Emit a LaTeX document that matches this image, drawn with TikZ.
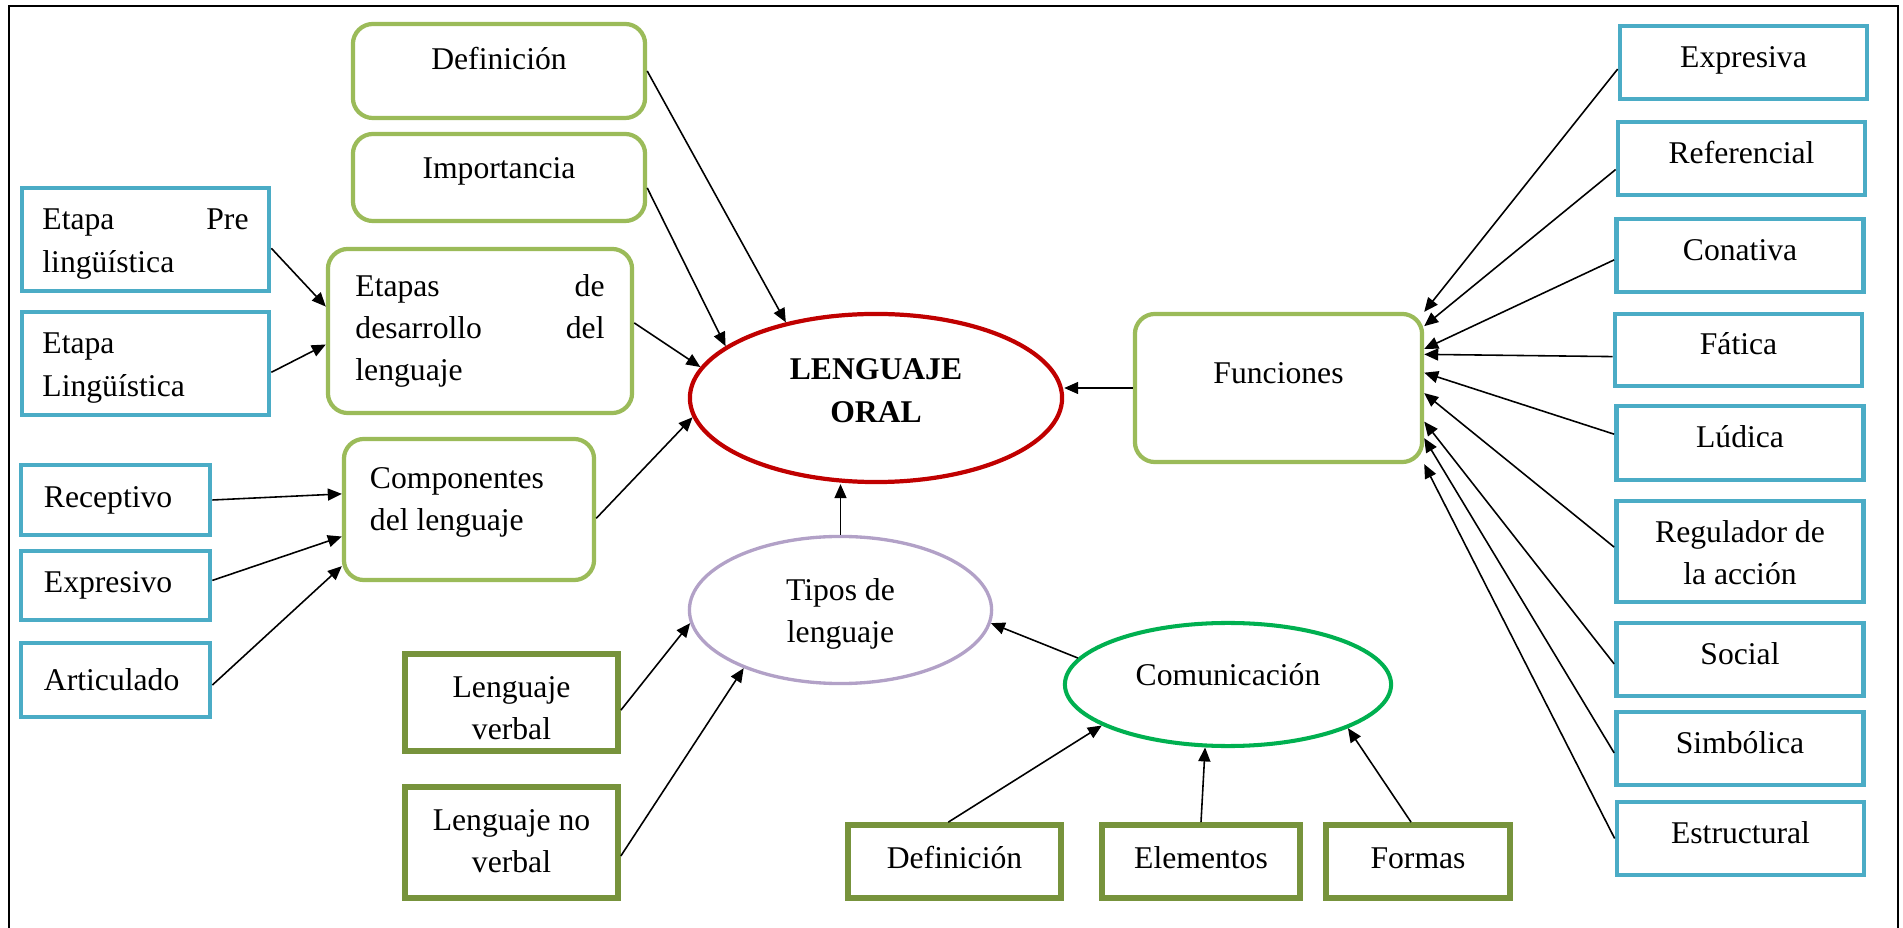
\documentclass[tikz,border=0pt]{standalone}
\usepackage{fontspec}
\setmainfont{Liberation Serif}
\usetikzlibrary{arrows.meta,shapes.geometric}
\definecolor{boxblue}{HTML}{4BACC6}
\definecolor{boxgreen}{HTML}{9BBB59}
\definecolor{leafgreen}{HTML}{77933C}
\definecolor{oralred}{HTML}{C00000}
\definecolor{typeslilac}{HTML}{B2A1C7}
\definecolor{commgreen}{HTML}{00B050}

\begin{document}
\begin{tikzpicture}[x=0.01cm,y=-0.01cm]
\tikzset{every node/.style={font=\fontsize{9}{11.95}\selectfont},
  box size/.style 2 args={minimum width=#1cm,minimum height=#2cm},
  left text/.style 2 args={text width=#1cm,inner xsep=#2cm,align=flush left},
  stacked/.style={text width=2cm,align=flush center,text height=6.3pt,text depth=#1},
  blue box/.style={draw=boxblue,rectangle,line width=1.3pt,inner sep=0pt,align=center},
  func box/.style={blue box,box size={2.47}{0.73},text height=6.3pt,text depth=3.7pt},
  round box/.style={draw=boxgreen,rectangle,rounded corners=0.2cm,line width=1.2pt,inner sep=0pt,align=center},
  leaf box/.style={draw=leafgreen,rectangle,line width=1.6pt,inner sep=0pt,align=center},
  concept oval/.style={draw=#1,ellipse,inner sep=0pt,align=center},
  map arrow/.style={-{Triangle[length=0.14cm,width=0.12cm]},line width=0.45pt}}

\useasboundingbox (0,0) rectangle (1903,928);
\draw[line width=0.6pt] (9,928) -- (9,6) -- (1898,6) -- (1898,928);

\node[blue box, box size={2.47}{1.03}, left text={2.06}{0.205}, text height=6.3pt, text depth=11.7pt] (pre) at (145.5,239.5) {Etapa \hfill Pre\\ lingüística};
\node[blue box, box size={2.47}{1.03}, left text={2.06}{0.205}, text height=6.3pt, text depth=11.7pt] (ling) at (145.5,363.5) {Etapa\\ Lingüística};
\node[blue box, box size={1.89}{0.70}, left text={1.43}{0.23}] (rec) at (115.5,500) {Receptivo};
\node[blue box, box size={1.89}{0.69}, left text={1.43}{0.23}] (exp) at (115.5,585.5) {Expresivo};
\node[blue box, box size={1.89}{0.74}, left text={1.43}{0.23}] (art) at (115.5,680) {Articulado};

\node[round box, box size={2.92}{0.94}, text depth=7pt] (def) at (499,71) {Definición};
\node[round box, box size={2.92}{0.87}, text depth=5.6pt] (imp) at (499,177.5) {Importancia};
\node[round box, box size={3.04}{1.64}, left text={2.49}{0.275}] (etapas) at (480,331) {Etapas \hfill de\\ desarrollo \hfill del\\ lenguaje};
\node[round box, box size={2.50}{1.41}, left text={1.98}{0.26}, text height=6.3pt, text depth=18.4pt] (comp) at (469,509.5) {Componentes\\ del lenguaje};
\node[round box, box size={2.87}{1.48}, text depth=8.6pt] (fun) at (1278.5,388) {Funciones};

\node[concept oval=oralred, line width=1.2pt, minimum width=3.72cm, minimum height=1.68cm, stacked=16.7pt, font=\fontsize{9}{12.2}\selectfont\bfseries] (oral) at (876,398) {LENGUAJE\\ ORAL};
\node[concept oval=typeslilac, line width=0.95pt, minimum width=3.02cm, minimum height=1.47cm, stacked=11.6pt] (tipos) at (840.5,610) {Tipos de\\ lenguaje};
\node[concept oval=commgreen, line width=1.15pt, minimum width=3.26cm, minimum height=1.23cm, text depth=5.6pt] (comm) at (1228,684.5) {Comunicación};

\node[leaf box, box size={2.13}{0.97}, stacked=9.1pt] (verbal) at (511.5,702.5) {Lenguaje\\ verbal};
\node[leaf box, box size={2.13}{1.11}, stacked=13.1pt] (noverbal) at (511.5,842.5) {Lenguaje no\\ verbal};
\node[leaf box, box size={2.13}{0.73}, text height=6.3pt, text depth=2.5pt] (defb) at (954.5,861.5) {Definición};
\node[leaf box, box size={1.98}{0.73}, text height=6.3pt, text depth=2.5pt] (elem) at (1201,861.5) {Elementos};
\node[leaf box, box size={1.84}{0.73}, text height=6.3pt, text depth=2.5pt] (formas) at (1418,861.5) {Formas};

\node[func box] (expresiva) at (1743.5,62.5) {Expresiva};
\node[func box] (referencial) at (1741.5,158.5) {Referencial};
\node[func box] (conativa) at (1740,255.5) {Conativa};
\node[func box, minimum height=0.72cm] (fatica) at (1738.5,350) {Fática};
\node[func box, minimum height=0.74cm] (ludica) at (1740,443) {Lúdica};
\node[blue box, box size={2.47}{1.01}, stacked=11.3pt] (regulador) at (1740,551.5) {Regulador de\\ la acción};
\node[func box] (social) at (1740,659.5) {Social};
\node[func box] (simbolica) at (1740,748.5) {Simbólica};
\node[func box] (estructural) at (1740.5,838.5) {Estructural};

\draw[map arrow] (pre.-4) -- (etapas.171);
\draw[map arrow] (ling.-4) -- (etapas.185);
\draw[map arrow] (rec.east) -- (comp.173);
\draw[map arrow] (exp.3) -- (comp.192);
\draw[map arrow] (art.-3) -- (comp.204);
\draw[map arrow] (def.east) -- (oral.140);
\draw[map arrow] (imp.-4) -- (oral.161);
\draw[map arrow] (etapas.3) -- (oral.170);
\draw[map arrow] (comp.-4) -- (oral.186);
\draw[map arrow] (fun.west) -- (fun.west -| oral.east);
\draw[map arrow] (tipos.north) -- (tipos.north |- oral.south);
\draw[map arrow] (verbal.-4) -- (tipos.185);
\draw[map arrow] (noverbal.-7) -- (tipos.211);
\draw[map arrow] (comm.170) -- (tipos.-5);
\draw[map arrow] (defb.99) -- (comm.198);
\draw[map arrow] (elem.north) -- (comm.250);
\draw[map arrow] (formas.100) -- (comm.-20);
\draw[map arrow] (expresiva.183) -- (fun.north east);
\draw[map arrow] (referencial.185) -- (fun.23);
\draw[map arrow] (conativa.182) -- (fun.15);
\draw[map arrow] (fatica.183) -- (fun.13);
\draw[map arrow] (ludica.176) -- (fun.6);
\draw[map arrow] (regulador.178) -- (fun.-2);
\draw[map arrow] (social.182) -- (fun.-13);
\draw[map arrow] (simbolica.182) -- (fun.-19);
\draw[map arrow] (estructural.west) -- (fun.south east);
\end{tikzpicture}
\end{document}
